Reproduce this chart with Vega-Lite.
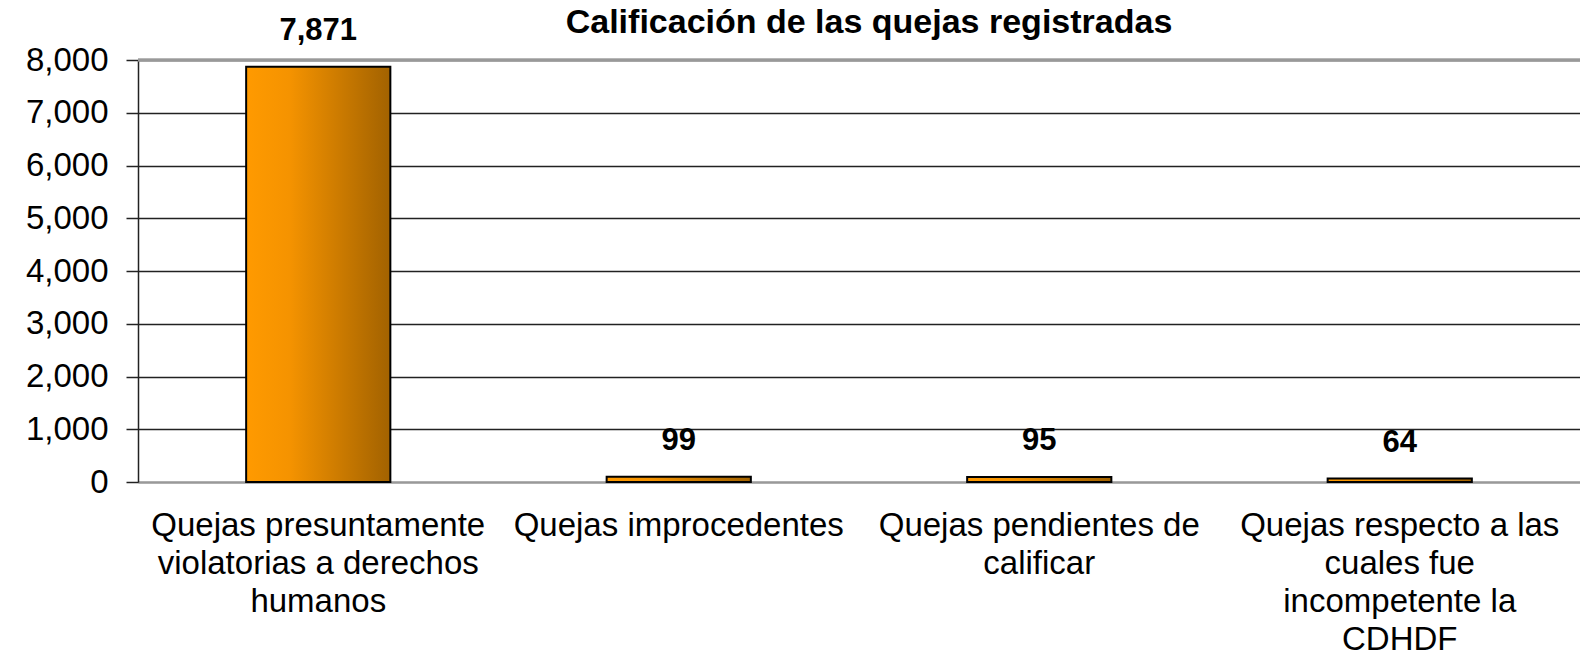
{
  "$schema": "https://vega.github.io/schema/vega-lite/v6.json",
  "autosize": {"type": "none"},
  "width": 1442,
  "height": 422,
  "padding": {"left": 138, "top": 60, "right": 0, "bottom": 170},
  "background": "white",
  "title": {
    "text": "Calificación de las quejas registradas",
    "font": "Liberation Sans",
    "fontSize": 34,
    "fontWeight": "bold",
    "color": "black",
    "anchor": "middle",
    "baseline": "alphabetic",
    "offset": -20,
    "dx": 10,
    "dy": 32
  },
  "config": {
    "view": {"stroke": null},
    "axis": {"labelFont": "Liberation Sans", "labelColor": "black"}
  },
  "data": {
    "values": [
      {"categoria": "Quejas presuntamente violatorias a derechos humanos", "quejas": 7871},
      {"categoria": "Quejas improcedentes", "quejas": 99},
      {"categoria": "Quejas pendientes de calificar", "quejas": 95},
      {"categoria": "Quejas respecto a las cuales fue incompetente la CDHDF", "quejas": 64}
    ]
  },
  "encoding": {
    "x": {
      "field": "categoria",
      "type": "nominal",
      "sort": null,
      "scale": {"paddingInner": 0.6, "paddingOuter": 0.3},
      "axis": {
        "title": null,
        "labelAngle": 0,
        "labelFontSize": 33,
        "labelLineHeight": 38,
        "labelPadding": 27,
        "ticks": false,
        "domainColor": "#999999",
        "domainWidth": 2,
        "labelLimit": 0,
        "labelExpr": "datum.value == 'Quejas presuntamente violatorias a derechos humanos' ? ['Quejas presuntamente', 'violatorias a derechos', 'humanos'] : datum.value == 'Quejas pendientes de calificar' ? ['Quejas pendientes de', 'calificar'] : datum.value == 'Quejas respecto a las cuales fue incompetente la CDHDF' ? ['Quejas respecto a las', 'cuales fue', 'incompetente la', 'CDHDF'] : datum.value"
      }
    },
    "y": {
      "field": "quejas",
      "type": "quantitative",
      "scale": {"domain": [0, 8000], "nice": false},
      "axis": {
        "title": null,
        "values": [0, 1000, 2000, 3000, 4000, 5000, 6000, 7000, 8000],
        "labelExpr": "format(datum.value, ',')",
        "labelFontSize": 33,
        "labelPadding": 18,
        "tickSize": 12,
        "tickColor": "#222222",
        "tickWidth": 1.5,
        "domainColor": "#222222",
        "domainWidth": 1.5,
        "grid": true,
        "gridColor": "#222222",
        "gridWidth": 1.3
      }
    }
  },
  "layer": [
    {
      "mark": {"type": "rule", "color": "#999999", "strokeWidth": 2.5},
      "encoding": {"y": {"datum": 8000}, "x": {"value": 0}, "x2": {"value": 1442}}
    },
    {
      "mark": {
        "type": "bar",
        "stroke": "black",
        "strokeWidth": 2,
        "color": {
          "gradient": "linear",
          "x1": 0, "x2": 1, "y1": 0, "y2": 0,
          "stops": [
            {"offset": 0, "color": "#ff9a00"},
            {"offset": 0.3, "color": "#f59300"},
            {"offset": 1, "color": "#a26200"}
          ]
        }
      }
    },
    {
      "mark": {
        "type": "text",
        "font": "Liberation Sans",
        "fontSize": 31,
        "fontWeight": "bold",
        "color": "black",
        "baseline": "alphabetic",
        "dy": -27
      },
      "encoding": {"text": {"field": "quejas", "type": "quantitative", "format": ","}}
    }
  ]
}
